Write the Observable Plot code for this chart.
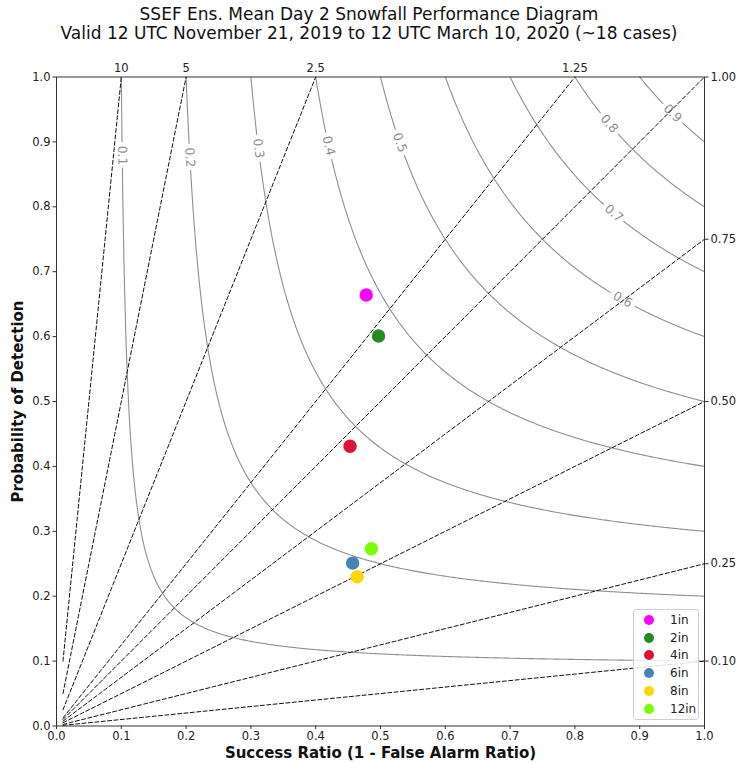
<!DOCTYPE html>
<html>
<head>
<meta charset="utf-8">
<script src="https://cdn.jsdelivr.net/npm/d3@7"></script>
<script src="https://cdn.jsdelivr.net/npm/@observablehq/plot@0.6"></script>
<style>
  body { margin: 0; background: white; font-family: "DejaVu Sans", sans-serif; }
  #wrap { position: relative; width: 738px; height: 763px; overflow: hidden; }
  #title { height: 55px; box-sizing: border-box; padding-top: 4.5px; text-align: center; font-size: 17px; line-height: 19px; color: #111; }
  #legend { position: absolute; left: 633px; top: 609px; width: 66px; height: 111px; box-sizing: border-box;
            border: 1px solid #d0d0d0; border-radius: 3px; background: rgba(255,255,255,0.85); font-size: 12px; color: #222; }
  .li { position: absolute; left: 0; height: 14px; line-height: 14px; }
  .sw { position: absolute; left: 10px; top: 2px; width: 10px; height: 10px; border-radius: 50%; }
  .lt { position: absolute; left: 36px; top: 0; white-space: nowrap; }
</style>
</head>
<body>
<div id="wrap">
  <div id="title"></div>
  <div id="chart"></div>
  <div id="legend"></div>
</div>
<script>
// ---- data ----
const titleLines = [
  "SSEF Ens. Mean Day 2 Snowfall Performance Diagram",
  "Valid 12 UTC November 21, 2019 to 12 UTC March 10, 2020 (~18 cases)"
];
const categories = ["1in", "2in", "4in", "6in", "8in", "12in"];
const successRatio = [0.478, 0.497, 0.453, 0.457, 0.464, 0.486];
const probDetection = [0.664, 0.601, 0.431, 0.251, 0.230, 0.273];
const colors = ["#ff00ff", "#228b22", "#dc143c", "#4682b4", "#ffd700", "#7cfc00"];

const csiLevels = [0.1, 0.2, 0.3, 0.4, 0.5, 0.6, 0.7, 0.8, 0.9];
const csiLabelPOD = [0.879, 0.876, 0.890, 0.894, 0.899, 0.657, 0.790, 0.928, 0.944];
const biasValues = [0.1, 0.25, 0.5, 0.75, 1, 1.25, 2.5, 5, 10];
const topBias = [10, 5, 2.5, 1.25];
const rightBias = [0.1, 0.25, 0.5, 0.75, 1.0];
const axisTicks = [0, 0.1, 0.2, 0.3, 0.4, 0.5, 0.6, 0.7, 0.8, 0.9, 1.0];
const xLabel = "Success Ratio (1 - False Alarm Ratio)";
const yLabel = "Probability of Detection";

// ---- derived geometry (performance diagram definitions) ----
const podFromCSI = (c, s) => 1 / (1 / c - 1 / s + 1);
const srFromCSI = (c, p) => 1 / (1 / c - 1 / p + 1);

const contourPts = [];
for (const c of csiLevels) {
  const n = 500;
  for (let i = 0; i <= n; i++) {
    const t = i / n;
    const s = c + (1 - c) * t * t;
    contourPts.push({level: c, sr: s, pod: Math.min(1, podFromCSI(c, s))});
  }
}
const contourLabels = csiLevels.map((c, i) => {
  const p = csiLabelPOD[i];
  const s = srFromCSI(c, p);
  return {text: String(c), sr: s, pod: p, angle: Math.atan((p * p) / (s * s)) * 180 / Math.PI};
});
const biasPts = [];
for (const b of biasValues) {
  const s0 = 0.01, s1 = Math.min(1, 1 / b);
  biasPts.push({bias: b, sr: s0, pod: s0 * b});
  biasPts.push({bias: b, sr: s1, pod: s1 * b});
}
const points = categories.map((c, i) => ({cat: c, sr: successRatio[i], pod: probDetection[i], color: colors[i]}));

// ---- title ----
document.getElementById("title").innerHTML = titleLines.map(t => `<div>${t}</div>`).join("");

// ---- chart ----
const tickFont = 11.5;
const chart = Plot.plot({
  width: 738,
  height: 708,
  marginLeft: 56,
  marginRight: 34,
  marginTop: 21.5,
  marginBottom: 37.5,
  style: {fontFamily: "DejaVu Sans", fontSize: "11.5px", color: "#222", background: "white", overflow: "visible"},
  x: {domain: [0, 1]},
  y: {domain: [0, 1]},
  marks: [
    Plot.line(contourPts, {x: "sr", y: "pod", z: "level", stroke: "#8f8f8f", strokeWidth: 1.1}),
    Plot.text(contourLabels, {x: "sr", y: "pod", text: "text", rotate: "angle", fill: "#8f8f8f",
      stroke: "white", strokeWidth: 9, fontSize: 12.5}),
    Plot.line(biasPts, {x: "sr", y: "pod", z: "bias", stroke: "#111", strokeWidth: 1, strokeDasharray: "4,2.4"}),
    Plot.frame({stroke: "#333", strokeWidth: 1}),
    Plot.axisX({ticks: axisTicks, tickFormat: d3.format(".1f"), tickSize: 3.5, tickPadding: 2.5, label: null, stroke: "#333", fontSize: tickFont}),
    Plot.axisY({ticks: axisTicks, tickFormat: d3.format(".1f"), tickSize: 3.5, tickPadding: 2.5, label: null, stroke: "#333", fontSize: tickFont}),
    Plot.axisY({anchor: "right", ticks: rightBias, tickFormat: d3.format(".2f"), tickSize: 3.5, tickPadding: 2.5, label: null, stroke: "#333", fontSize: tickFont}),
    Plot.axisX({anchor: "top", ticks: topBias.map(b => 1 / b), tickFormat: (d, i) => String(topBias[i]), tickSize: 0, tickPadding: 5, label: null, fontSize: tickFont}),
    Plot.dot(points, {x: "sr", y: "pod", fill: "color", r: 6.7}),
    Plot.text([xLabel], {frameAnchor: "bottom", dy: 27, lineAnchor: "middle", textAnchor: "middle", fontWeight: "bold", fontSize: 15, fill: "#111"}),
    Plot.text([yLabel], {frameAnchor: "left", dx: -38, rotate: -90, lineAnchor: "middle", textAnchor: "middle", fontWeight: "bold", fontSize: 15, fill: "#111"})
  ]
});
document.getElementById("chart").appendChild(chart);

// ---- legend ----
const legend = document.getElementById("legend");
categories.forEach((c, i) => {
  const row = document.createElement("div");
  row.className = "li";
  row.style.top = (3 + i * 17.7) + "px";
  row.innerHTML = `<span class="sw" style="background:${colors[i]}"></span><span class="lt">${c}</span>`;
  legend.appendChild(row);
});
</script>
</body>
</html>
